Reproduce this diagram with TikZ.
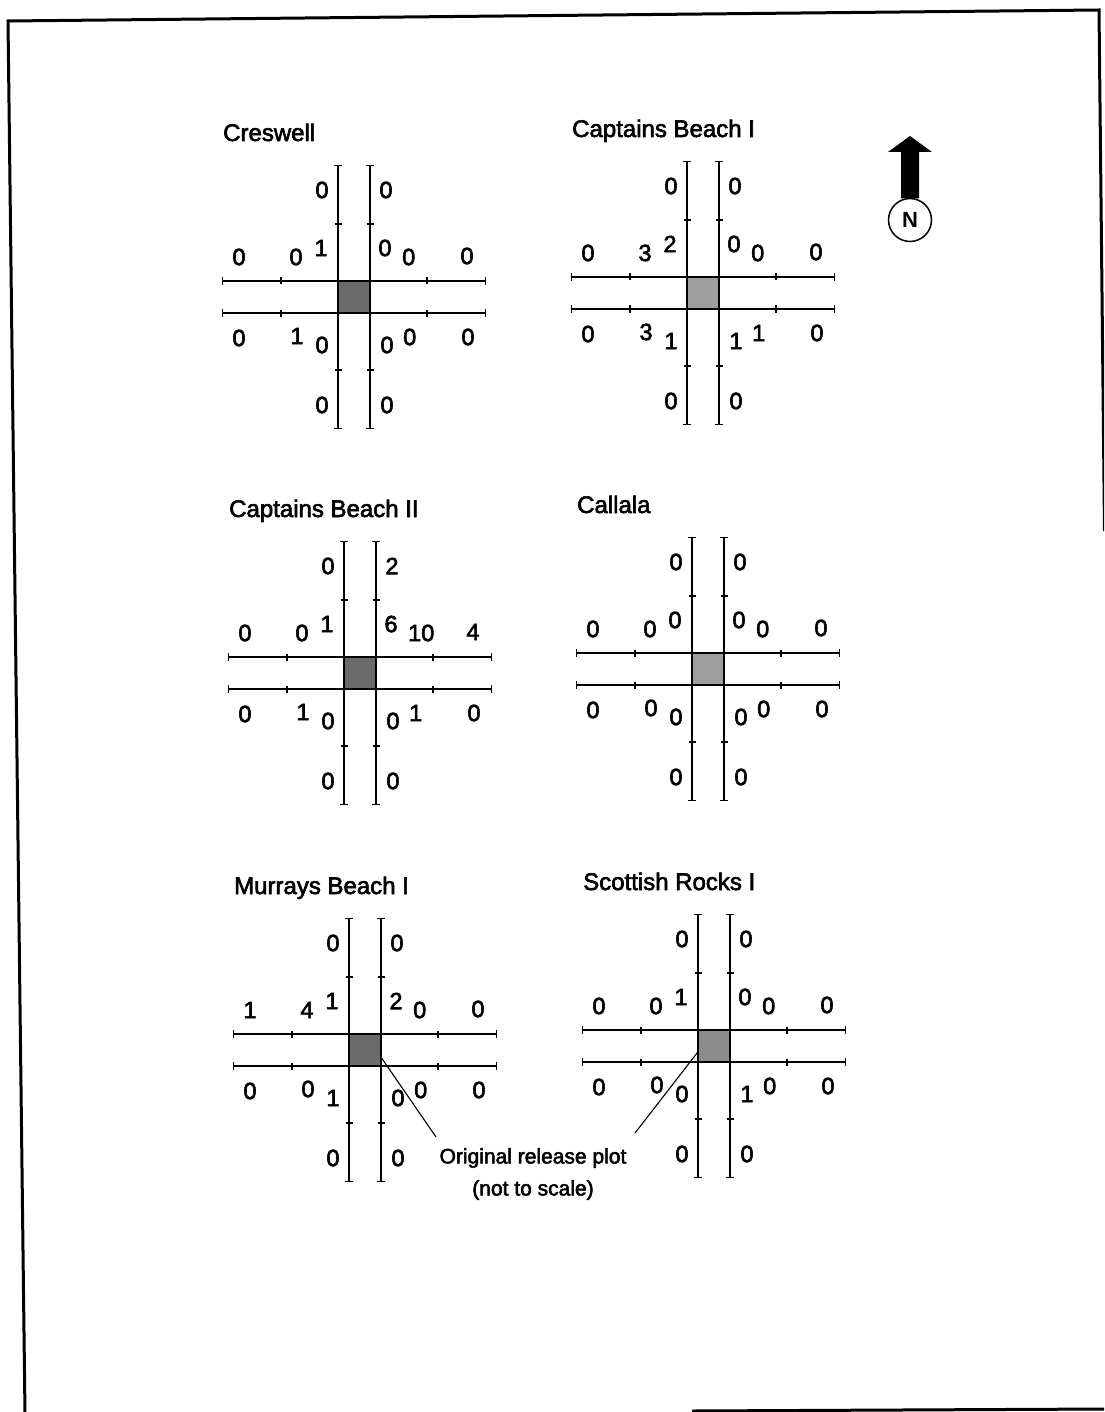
\documentclass[tikz,border=0pt]{standalone}
\usepackage{fontspec}
\setmainfont{Liberation Sans}
\newfontfamily\scanfont[FakeBold=2.5]{Liberation Sans}
\usetikzlibrary{arrows.meta}
\definecolor{sqdark}{gray}{0.42}
\definecolor{sqlight}{gray}{0.62}
\definecolor{sqmid}{gray}{0.55}
\tikzset{
  arm/.style={line width=1.4pt, {Bar[width=8pt]}-{Bar[width=8pt]}},
  tickmark/.style={line width=1.2pt},
  relsq/.style={draw, line width=1.4pt, minimum size=32pt, inner sep=0pt, outer sep=0pt},
  num/.style={font=\scanfont\fontsize{23.5}{25}\selectfont, inner sep=0pt},
  ttl/.style={font=\scanfont\fontsize{24}{28}\selectfont, anchor=base west, inner sep=0pt},
  frameline/.style={line width=3pt},
  leader/.style={line width=1.1pt},
}
% body of one cross plot: #1 prefix, #2 title, #3 square colour
\newcommand{\crossbody}[3]{%
  \node[ttl] (#1title) at (-131,-156) {#2};
  \draw[arm] (-16,-132) -- (-16,132);
  \draw[arm] (16,-132) -- (16,132);
  \draw[arm] (-132,-16) -- (132,-16);
  \draw[arm] (-132,16) -- (132,16);
  \foreach \s in {-1,1}{\foreach \t in {-73,73}{
    \draw[tickmark] (\s*16-3.5,\t) -- (\s*16+3.5,\t);
    \draw[tickmark] (\t,\s*16-3.5) -- (\t,\s*16+3.5);
  }}
  \node[relsq, fill=#3] (#1sq) at (0,0) {};
}
% upper labels: NOL NOR NIL NIR WOU WIU EIU EOU
\newcommand{\labup}[9]{%
  \node[num] (#1nol) at (-32,-107) {#2};
  \node[num] (#1nor) at (32,-107) {#3};
  \node[num] (#1nil) at (-33,-49) {#4};
  \node[num] (#1nir) at (31,-49) {#5};
  \node[num] (#1wou) at (-115,-40) {#6};
  \node[num] (#1wiu) at (-58,-40) {#7};
  \node[num, anchor=west] (#1eiu) at (48,-40) {#8};
  \node[num] (#1eou) at (113,-41) {#9};
}
% lower labels: WOL WIL SIL SIR EIL EOL SOL SOR
\newcommand{\labdown}[9]{%
  \node[num] (#1wol) at (-115,41) {#2};
  \node[num] (#1wil) at (-57,39) {#3};
  \node[num] (#1sil) at (-32,48) {#4};
  \node[num] (#1sir) at (33,48) {#5};
  \node[num, anchor=west] (#1eil) at (49,40) {#6};
  \node[num] (#1eol) at (114,40) {#7};
  \node[num] (#1sol) at (-32,108) {#8};
  \node[num] (#1sor) at (33,108) {#9};
}
\begin{document}
\begin{tikzpicture}[x=1pt,y=-1pt]
\useasboundingbox (0,0) rectangle (1104,1412);
\fill[white] (0,0) rectangle (1104,1412);
% page frame
\begin{scope}
\clip (0,0) rectangle (1104,1412);
\draw[frameline] (25,1414) -- (8,21) -- (1099,10) -- (1104.5,531);
\draw[frameline] (692,1411) -- (1106,1409);
\end{scope}

% Creswell
\begin{scope}[shift={(354,297)}]
  \crossbody{cr}{Creswell}{sqdark}
  \labup{cr}{0}{0}{1}{0}{0}{0}{0}{0}
  \labdown{cr}{0}{1}{0}{0}{0}{0}{0}{0}
\end{scope}
% Captains Beach I
\begin{scope}[shift={(703,293)}]
  \crossbody{cbi}{Captains Beach I}{sqlight}
  \labup{cbi}{0}{0}{2}{0}{0}{3}{0}{0}
  \labdown{cbi}{0}{3}{1}{1}{1}{0}{0}{0}
\end{scope}
% Captains Beach II
\begin{scope}[shift={(360,673)}]
  \crossbody{cbii}{Captains Beach II}{sqdark}
  \labup{cbii}{0}{2}{1}{6}{0}{0}{10}{4}
  \labdown{cbii}{0}{1}{0}{0}{1}{0}{0}{0}
\end{scope}
% Callala
\begin{scope}[shift={(708,669)}]
  \crossbody{ca}{Callala}{sqlight}
  \labup{ca}{0}{0}{0}{0}{0}{0}{0}{0}
  \labdown{ca}{0}{0}{0}{0}{0}{0}{0}{0}
\end{scope}
% Murrays Beach I
\begin{scope}[shift={(365,1050)}]
  \crossbody{mb}{Murrays Beach I}{sqdark}
  \labup{mb}{0}{0}{1}{2}{1}{4}{0}{0}
  \labdown{mb}{0}{0}{1}{0}{0}{0}{0}{0}
\end{scope}
% Scottish Rocks I
\begin{scope}[shift={(714,1046)}]
  \crossbody{sr}{Scottish Rocks I}{sqmid}
  \labup{sr}{0}{0}{1}{0}{0}{0}{0}{0}
  \labdown{sr}{0}{0}{0}{1}{0}{0}{0}{0}
\end{scope}

% note and leaders
\node[align=center, font=\scanfont\fontsize{21}{32}\selectfont, inner sep=0pt] (note) at (533,1174) {Original release plot\\(not to scale)};
\coordinate (leadA) at (436,1137);
\coordinate (leadB) at (635,1133);
\draw[leader] (mbsq.-24) -- (leadA);
\draw[leader] (srsq.200) -- (leadB);

% north arrow
\node[circle, draw, line width=1.5pt, minimum size=43pt, inner sep=0pt,
      font=\fontsize{22}{24}\selectfont\bfseries] (north) at (910,220) {N};
\fill (901,198.5) -- (901,152) -- (888,152) -- (910,136) -- (932,152) -- (919,152) -- (919,198.5) -- cycle;
\end{tikzpicture}
\end{document}
